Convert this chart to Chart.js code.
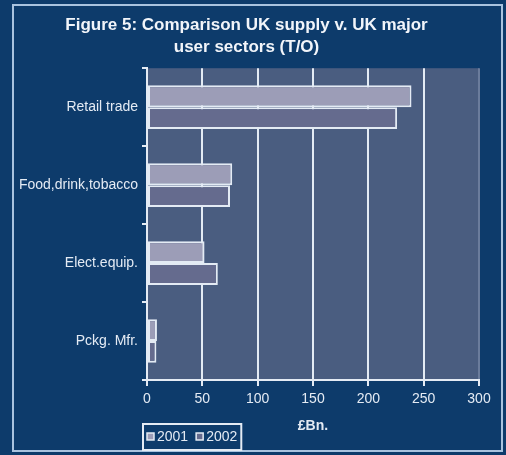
<!DOCTYPE html>
<html>
<head>
<meta charset="utf-8">
<script src="https://cdn.jsdelivr.net/npm/chart.js@4.4.1/dist/chart.umd.min.js"></script>
<style>
  html, body { margin: 0; padding: 0; background: #0d3b6b; }
  #wrap { width: 506px; height: 455px; }
</style>
</head>
<body>
<div id="wrap"><canvas id="myBarChart"></canvas></div>
<script>
var sectors = ['Retail trade', 'Food,drink,tobacco', 'Elect.equip.', 'Pckg. Mfr.'];
var turnover2001 = [239, 77, 52, 9];
var turnover2002 = [226, 75, 64, 8.5];
var xTicks = [0, 50, 100, 150, 200, 250, 300];

var FONT = 'Arial, "Liberation Sans", sans-serif';
var LIGHT = '#e4ebf4';

// frame, plot background and the boxed legend
var framePlugin = {
  id: 'frame',
  beforeDraw: function (chart) {
    var ctx = chart.ctx, a = chart.chartArea;
    ctx.save();
    ctx.fillStyle = '#0d3b6b';
    ctx.fillRect(0, 0, chart.width, chart.height);
    ctx.strokeStyle = '#a9c3df';
    ctx.lineWidth = 2;
    ctx.strokeRect(13, 5, 489, 446);
    ctx.fillStyle = '#4a5d80';
    ctx.fillRect(a.left, a.top, a.right - a.left, a.bottom - a.top);
    ctx.restore();
  },
  afterDraw: function (chart) {
    var ctx = chart.ctx;
    var x = 143, y = 424, h = 26;
    ctx.save();
    ctx.font = '14px ' + FONT;
    ctx.textBaseline = 'middle';
    var cx = x + 4;
    chart.data.datasets.forEach(function (ds) {
      ctx.fillStyle = ds.backgroundColor;
      ctx.fillRect(cx, y + h / 2 - 4, 7, 7);
      ctx.strokeStyle = LIGHT;
      ctx.lineWidth = 1.5;
      ctx.strokeRect(cx, y + h / 2 - 4, 7, 7);
      ctx.fillStyle = LIGHT;
      ctx.fillText(ds.label, cx + 10, y + h / 2);
      cx += 10 + ctx.measureText(ds.label).width + 8;
    });
    ctx.strokeStyle = LIGHT;
    ctx.lineWidth = 2;
    ctx.strokeRect(x, y, cx - x - 4, h);
    ctx.restore();
  }
};

var ctx = document.getElementById('myBarChart');
var myBarChart = new Chart(ctx, {
  type: 'bar',
  data: {
    labels: sectors,
    datasets: [{
      label: '2001',
      data: turnover2001,
      backgroundColor: '#9c9db7',
      borderColor: LIGHT,
      borderWidth: 2,
      borderSkipped: false
    }, {
      label: '2002',
      data: turnover2002,
      backgroundColor: '#656b8e',
      borderColor: LIGHT,
      borderWidth: 2,
      borderSkipped: false
    }]
  },
  options: {
    indexAxis: 'y',
    responsive: true,
    maintainAspectRatio: false,
    animation: false,
    layout: { padding: { top: 6, left: 14, right: 27, bottom: 0 } },
    datasets: { bar: { categoryPercentage: 0.56, barPercentage: 1.0 } },
    plugins: {
      legend: { display: false },
      tooltip: { enabled: false },
      title: {
        display: true,
        text: ['Figure 5: Comparison UK supply v. UK major', 'user sectors (T/O)'],
        color: '#f2f5fa',
        font: { family: FONT, size: 17, weight: 'bold', lineHeight: 1.3 },
        padding: { top: 8, bottom: 10 }
      }
    },
    scales: {
      x: {
        min: 0,
        max: 300,
        afterFit: function (scale) { scale.height = 75; },
        afterBuildTicks: function (scale) {
          scale.ticks = xTicks.map(function (v) { return { value: v }; });
        },
        grid: {
          color: function (c) { return c.tick && c.tick.value === 300 ? '#6b7c9c' : LIGHT; },
          lineWidth: 2,
          tickLength: 6,
          tickColor: LIGHT
        },
        border: { color: LIGHT, width: 2 },
        ticks: {
          color: LIGHT,
          font: { family: FONT, size: 14 },
          padding: 5,
          maxRotation: 0
        },
        title: {
          display: true,
          text: '£Bn.',
          color: LIGHT,
          font: { family: FONT, size: 14, weight: 'bold' },
          padding: { top: 0, bottom: 20 }
        }
      },
      y: {
        afterFit: function (scale) { scale.width = 133; },
        grid: {
          offset: true,
          drawOnChartArea: false,
          tickLength: 5,
          tickColor: LIGHT,
          lineWidth: 2
        },
        border: { color: LIGHT, width: 2 },
        ticks: {
          color: LIGHT,
          font: { family: FONT, size: 14 },
          padding: 4
        }
      }
    }
  },
  plugins: [framePlugin]
});
</script>
</body>
</html>
